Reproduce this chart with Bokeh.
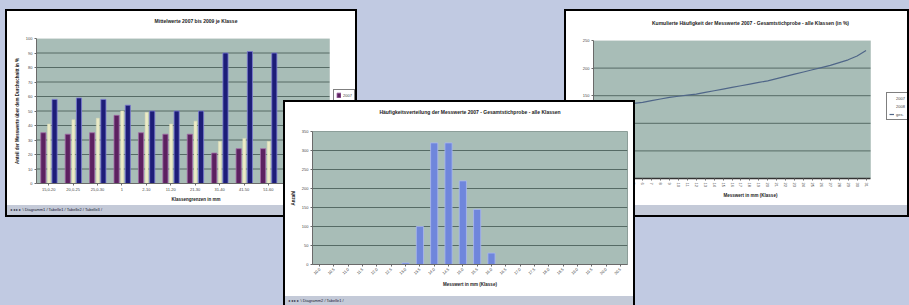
from bokeh.plotting import figure
from bokeh.models import (ColumnDataSource, Div, Legend, LegendItem, FactorRange,
                          Range1d, FixedTicker, Title, BoxAnnotation)
from bokeh.layouts import column
from bokeh.transform import dodge
from bokeh.embed import file_html
from bokeh.resources import INLINE

# ---------------- data ----------------
left_categories = ["15,0-20", "20,0-25", "25,0-30", "1", "2-10", "11-20",
                   "21-30", "31-40", "41-50", "51-60", "61-70", "71-80"]
left_series_names = ["2007", "2008", "2009"]
left_series_a = [35, 34, 35, 47, 35, 34, 34, 21, 24, 24, 26, 28]
left_series_b = [41, 44, 45, 50, 49, 41, 43, 29, 31, 29, 33, 36]
left_series_c = [58, 59, 58, 54, 50, 50, 50, 90, 91, 90, 48, 45]
left_y_ticks = [0, 10, 20, 30, 40, 50, 60, 70, 80, 90, 100]

mid_categories = ["10,0", "10,5", "11,0", "11,5", "12,0", "12,5", "13,0", "13,5",
                  "14,0", "14,5", "15,0", "15,5", "16,0", "16,5", "17,0", "17,5",
                  "18,0", "18,5", "19,0", "19,5", "20,0", "20,5"]
mid_counts = [0, 0, 0, 0, 0, 0, 4, 100, 320, 320, 220, 145, 30, 0, 0, 0,
              0, 0, 0, 0, 0, 0]
mid_y_ticks = [0, 50, 100, 150, 200, 250, 300, 350]

right_categories = ["1", "2", "3", "4", "5", "6", "7", "8", "9", "10", "11", "12",
                    "13", "14", "15", "16", "17", "18", "19", "20", "21", "22",
                    "23", "24", "25", "26", "27", "28", "29", "30", "31"]
right_values = [128, 130, 132, 134, 136, 138, 141, 144, 147, 149, 151, 153, 156,
                159, 162, 165, 168, 171, 174, 177, 181, 185, 189, 193, 197, 201,
                205, 210, 215, 222, 232]
right_series_names = ["2007", "2008", "ges."]
right_y_ticks = [0, 50, 100, 150, 200, 250]

left_title = "Mittelwerte 2007 bis 2009 je Klasse"
left_xlabel = "Klassengrenzen in mm"
left_ylabel = "Anteil der Messwerte über dem Durchschnitt in %"
mid_title = "Häufigkeitsverteilung der Messwerte 2007 - Gesamtstichprobe - alle Klassen"
mid_xlabel = "Messwert in mm (Klasse)"
mid_ylabel = "Anzahl"
right_title = "Kumulierte Häufigkeit der Messwerte 2007 - Gesamtstichprobe - alle Klassen (in %)"
right_xlabel = "Messwert in mm (Klasse)"
right_ylabel = "Summe"
footer_texts = ["◂ ◂ ▸ ▸ \\ Diagramm1 / Tabelle1 / Tabelle2 / Tabelle3 /",
                "◂ ◂ ▸ ▸ \\ Diagramm2 / Tabelle1 /",
                "◂ ◂ ▸ ▸ \\ Diagramm3 /"]

# ---------------- style ----------------
PAGE_BG = "#c1cae2"
FRAME_BG = "#a8bdb7"
GRID = "#566b65"
OUTLINE = "#8c9e99"
FONT = "Liberation Sans"
FOOT_BG = "#c4cad8"


def base_fig(w, h, x_range, y_range, borders, title, spacer, title_offset):
    l, r, t, b = borders
    p = figure(width=w, height=h, x_range=x_range, y_range=y_range,
               output_backend="svg", toolbar_location=None,
               min_border_left=l, min_border_right=r, min_border_top=t,
               min_border_bottom=b)
    p.margin = 0
    # empty spacer between plot area and title, then the title itself
    p.add_layout(Title(text=" ", text_font_size="1px", standoff=spacer), "above")
    p.add_layout(Title(text=title, text_font=FONT, text_font_size="5px",
                       text_font_style="bold", text_color="#222222",
                       align="center", standoff=0, offset=title_offset), "above")
    p.background_fill_color = FRAME_BG
    p.border_fill_color = "white"
    p.outline_line_color = OUTLINE
    p.xgrid.grid_line_color = None
    p.ygrid.grid_line_color = GRID
    p.ygrid.grid_line_width = 1
    for ax in p.axis:
        ax.major_label_text_font = FONT
        ax.major_label_text_font_size = "4px"
        ax.major_label_text_color = "#444444"
        ax.axis_label_text_font = FONT
        ax.axis_label_text_font_size = "4.5px"
        ax.axis_label_text_font_style = "bold"
        ax.axis_label_text_color = "#222222"
        ax.axis_line_color = "#6a6a6a"
        ax.major_tick_line_color = "#6a6a6a"
        ax.major_tick_out = 2
        ax.major_tick_in = 0
        ax.minor_tick_line_color = None
        ax.major_label_standoff = 2
        ax.axis_label_standoff = 3
    return p


def with_side_legend(p, n_cats, y_ticks):
    """Plot area only covers the categories; the rest of the frame holds the legend."""
    p.background_fill_color = "white"
    p.outline_line_color = None
    p.ygrid.grid_line_color = None
    p.add_layout(BoxAnnotation(left=-0.5, right=n_cats - 0.5, bottom=y_ticks[0],
                               top=y_ticks[-1], fill_color=FRAME_BG, fill_alpha=1,
                               line_color=OUTLINE, line_width=1, level="underlay"))
    p.segment(x0=-0.5, x1=n_cats - 0.5, y0=y_ticks[1:-1], y1=y_ticks[1:-1],
              line_color=GRID, line_width=1)
    p.xaxis.ticker = FixedTicker(ticks=list(range(n_cats)))
    p.xaxis.bounds = (-0.5, n_cats - 0.5)


def small_legend(items, loc):
    return Legend(items=items, location=loc, margin=0, padding=2, spacing=2,
                  glyph_width=5, glyph_height=6, label_height=6, label_width=8,
                  label_standoff=2, label_text_font=FONT, label_text_font_size="4px",
                  border_line_color="#000000", border_line_width=0.7,
                  background_fill_color="white", background_fill_alpha=1)


def panel(p, w, footer, left, top, z):
    foot = Div(text=footer, width=w, height=10, margin=0,
               styles={"background-color": FOOT_BG, "font-size": "4px",
                       "line-height": "10px", "font-family": FONT,
                       "color": "#223", "overflow": "hidden",
                       "white-space": "nowrap", "padding-left": "3px"})
    # the 2px border is drawn inside the box, so the box is 4px larger
    return column(p, foot, width=w + 4, height=208, spacing=0, margin=0,
                  styles={"position": "absolute", "left": f"{left}px",
                          "top": f"{top}px", "border": "2px solid #000000",
                          "background-color": "white", "z-index": str(z)})


# ---------------- left chart ----------------
nl = len(left_categories)
xl = list(range(nl))
src_l = ColumnDataSource(dict(x=xl, a=left_series_a, b=left_series_b, c=left_series_c))
# frame 319 px wide, 293 px of which hold the 12 categories
pl = base_fig(348, 194, Range1d(-0.5, -0.5 + nl * 319 / 293), Range1d(0, 100),
              (29, 0, 27, 22), left_title, 12, -16)
with_side_legend(pl, nl, left_y_ticks)
pl.xaxis.major_label_overrides = {i: c for i, c in enumerate(left_categories)}
ra = pl.vbar(x=dodge("x", -0.22), top="a", width=0.21, source=src_l,
             fill_color="#5c2160", line_color="#a26aa6", line_width=0.8)
rb = pl.vbar(x=dodge("x", 0.01), top="b", width=0.12, source=src_l,
             fill_color="#ecebc6", line_color="#dcdcb6", line_width=0.5)
rc = pl.vbar(x=dodge("x", 0.24), top="c", width=0.21, source=src_l,
             fill_color="#1d1d78", line_color="#7b7bd2", line_width=0.8)
pl.yaxis.ticker = FixedTicker(ticks=left_y_ticks)
pl.xaxis.axis_label = left_xlabel
pl.yaxis.axis_label = left_ylabel
pl.add_layout(small_legend([LegendItem(label=left_series_names[0], renderers=[ra]),
                            LegendItem(label=left_series_names[1], renderers=[rb]),
                            LegendItem(label=left_series_names[2], renderers=[rc])],
                           (297, 66)))

# ---------------- middle chart ----------------
src_m = ColumnDataSource(dict(cat=mid_categories, n=mid_counts))
pm = base_fig(348, 194, FactorRange(factors=mid_categories), Range1d(0, 350),
              (27, 6, 29, 32), mid_title, 14, -11)
pm.vbar(x="cat", top="n", width=0.5, source=src_m, fill_color="#6f86dc",
        line_color="#a9b8f0", line_width=0.8)
pm.yaxis.ticker = FixedTicker(ticks=mid_y_ticks)
pm.xaxis.major_label_orientation = 0.785
pm.xaxis.axis_label = mid_xlabel
pm.yaxis.axis_label = mid_ylabel

# ---------------- right chart ----------------
nr = len(right_categories)
src_r = ColumnDataSource(dict(x=list(range(nr)), v=right_values))
# frame 314 px wide, 277 px of which hold the 31 categories
pr = base_fig(341, 194, Range1d(-0.5, -0.5 + nr * 314 / 277), Range1d(0, 250),
              (27, 0, 29, 27), right_title, 12, -10)
with_side_legend(pr, nr, right_y_ticks)
pr.xaxis.major_label_overrides = {i: c for i, c in enumerate(right_categories)}
# the two other series of the legend are not visible in the picture
r1 = pr.line(x=[], y=[], line_color="#e2e4e8", line_width=1)
r2 = pr.line(x=[], y=[], line_color="#c9ccd2", line_width=1)
rr = pr.line(x="x", y="v", source=src_r, line_color="#4f6688", line_width=1.2)
pr.yaxis.ticker = FixedTicker(ticks=right_y_ticks)
pr.xaxis.major_label_orientation = "vertical"
pr.xaxis.axis_line_color = "#333333"
pr.xaxis.axis_line_width = 1.5
pr.xaxis.axis_label = right_xlabel
pr.yaxis.axis_label = right_ylabel
pr.add_layout(small_legend([LegendItem(label=right_series_names[0], renderers=[r1]),
                            LegendItem(label=right_series_names[1], renderers=[r2]),
                            LegendItem(label=right_series_names[2], renderers=[rr])],
                           (293, 58)))

panel_l = panel(pl, 348, footer_texts[0], 5, 9, 1)
panel_r = panel(pr, 341, footer_texts[2], 564, 9, 2)
panel_m = panel(pm, 348, footer_texts[1], 283, 100, 3)

p = column(panel_l, panel_r, panel_m, width=909, height=305, spacing=0, margin=0,
           styles={"position": "absolute", "left": "0px", "top": "0px",
                   "width": "909px", "height": "305px", "overflow": "hidden",
                   "background-color": PAGE_BG})

open("out.html", "w").write(file_html(p, INLINE))
